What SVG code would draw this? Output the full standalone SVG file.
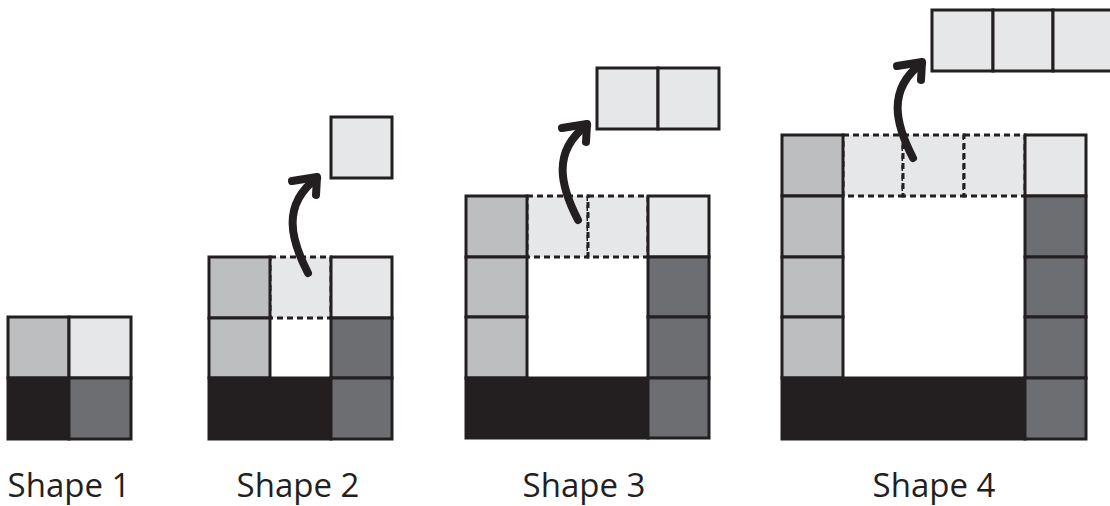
<svg xmlns="http://www.w3.org/2000/svg" width="1110" height="506" viewBox="0 0 1110 506">
<defs>
<style>
.c{stroke:#231f20;stroke-width:3;stroke-linejoin:miter}
.l{fill:#e6e7e8}
.m{fill:#bcbec0}
.d{fill:#6d6e71}
.k{fill:#231f20}
.ds{fill:#e6e7e8;stroke:#231f20;stroke-width:3;stroke-dasharray:6 4}
.arr{fill:none;stroke:#231f20;stroke-width:8;stroke-linecap:round;stroke-linejoin:round}
.lbl{font-family:"Open Sans","Liberation Sans",sans-serif;font-size:33px;fill:#231f20;text-anchor:middle}
</style>
<g id="arrowShape">
<path class="arr" d="M0,0 C-17,-33 -27,-68 9,-95"/>
<path class="arr" d="M-16,-92 L9,-96 L8,-78"/>
</g>
</defs>
<rect width="1110" height="506" fill="#fff"/>

<g id="shape1">
<rect class="c m" x="8" y="317" width="61" height="61"/>
<rect class="c l" x="69" y="317" width="62" height="61"/>
<rect class="c k" x="8" y="378" width="61" height="61"/>
<rect class="c d" x="69" y="378" width="62" height="61"/>
</g>

<g id="shape2">
<rect class="ds" x="270" y="257" width="61" height="61"/>
<rect class="c m" x="209" y="257" width="61" height="61"/>
<rect class="c l" x="331" y="257" width="61" height="61"/>
<rect class="c m" x="209" y="318" width="61" height="60"/>
<rect class="c d" x="331" y="318" width="61" height="60"/>
<rect class="c k" x="209" y="378" width="122" height="61"/>
<rect class="c d" x="331" y="378" width="61" height="61"/>
<rect class="c l" x="331" y="117" width="61" height="61"/>
</g>

<g id="shape3">
<rect class="ds" x="527" y="196" width="61" height="61"/>
<rect class="ds" x="588" y="196" width="60" height="61"/>
<rect class="c m" x="466" y="196" width="61" height="61"/>
<rect class="c l" x="648" y="196" width="61" height="61"/>
<rect class="c m" x="466" y="257" width="61" height="60"/>
<rect class="c m" x="466" y="317" width="61" height="61"/>
<rect class="c d" x="648" y="257" width="61" height="60"/>
<rect class="c d" x="648" y="317" width="61" height="61"/>
<rect class="c k" x="466" y="378" width="182" height="60"/>
<rect class="c d" x="648" y="378" width="61" height="60"/>
<rect class="c l" x="597" y="68" width="61" height="61"/>
<rect class="c l" x="658" y="68" width="61" height="61"/>
</g>

<g id="shape4">
<rect class="ds" x="843" y="135" width="60" height="61"/>
<rect class="ds" x="903" y="135" width="61" height="61"/>
<rect class="ds" x="964" y="135" width="61" height="61"/>
<rect class="c m" x="782" y="135" width="61" height="61"/>
<rect class="c l" x="1025" y="135" width="61" height="61"/>
<rect class="c m" x="782" y="196" width="61" height="61"/>
<rect class="c m" x="782" y="257" width="61" height="60"/>
<rect class="c m" x="782" y="317" width="61" height="61"/>
<rect class="c d" x="1025" y="196" width="61" height="61"/>
<rect class="c d" x="1025" y="257" width="61" height="60"/>
<rect class="c d" x="1025" y="317" width="61" height="61"/>
<rect class="c k" x="782" y="378" width="243" height="61"/>
<rect class="c d" x="1025" y="378" width="61" height="61"/>
<rect class="c l" x="932" y="10" width="61" height="61"/>
<rect class="c l" x="993" y="10" width="60" height="61"/>
<rect class="c l" x="1053" y="10" width="61" height="61"/>
</g>

<g id="connectors">
<use href="#arrowShape" transform="translate(308,273)"/>
<use href="#arrowShape" transform="translate(578,220)"/>
<use href="#arrowShape" transform="translate(913,158)"/>
</g>

<g id="labels">
<text class="lbl" x="69" y="497">Shape 1</text>
<text class="lbl" x="298" y="497">Shape 2</text>
<text class="lbl" x="584" y="497">Shape 3</text>
<text class="lbl" x="934" y="497">Shape 4</text>
</g>
</svg>
